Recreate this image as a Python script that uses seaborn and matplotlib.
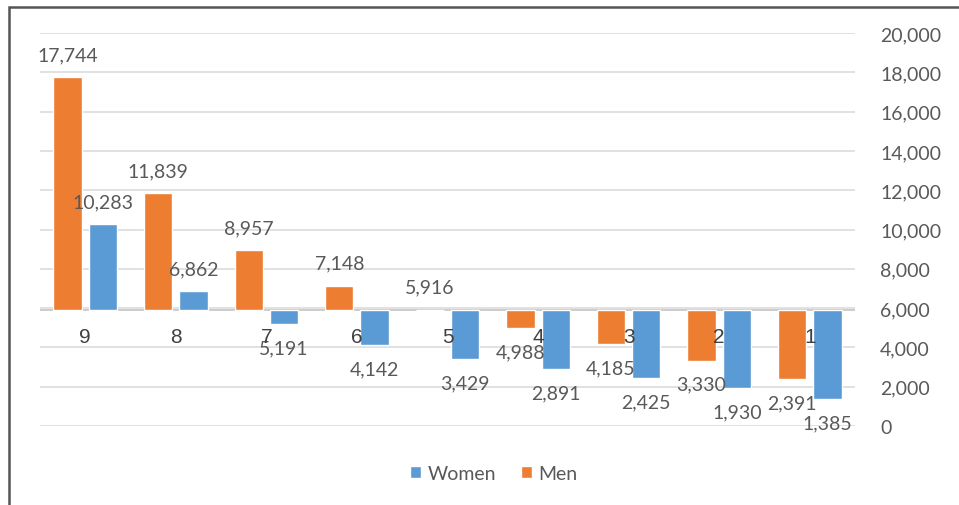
import matplotlib
matplotlib.use("Agg")
import matplotlib.pyplot as plt
from matplotlib.patches import Patch, Rectangle
import seaborn as sns
import pandas as pd

# Values per category
categories = ["9", "8", "7", "6", "5", "4", "3", "2", "1"]
men = [17744, 11839, 8957, 7148, 5916, 4988, 4185, 3330, 2391]
women = [10283, 6862, 5191, 4142, 3429, 2891, 2425, 1930, 1385]
y_ticks = list(range(0, 20001, 2000))

# bars grow from the horizontal axis, which crosses at the category-5 men value
base = men[categories.index("5")]

MEN_C = "#ED7D31"
WOMEN_C = "#5B9BD5"
TEXT_C = "#595959"

df = pd.DataFrame({
    "category": categories * 2,
    "sex": ["Men"] * len(categories) + ["Women"] * len(categories),
    "value": men + women,
})
df["offset"] = df["value"] - base

sns.set_theme(style="white")
plt.rcParams["font.family"] = ["Lato", "DejaVu Sans"]

fig = plt.figure(figsize=(9.59, 5.06), dpi=100, facecolor="white")
ax = fig.add_axes([40 / 959, 79 / 506, 815 / 959, 393 / 506])
ax.set_facecolor("white")

for y in y_ticks:
    ax.axhline(y, color="#D9D9D9", lw=1.1, zorder=0)
ax.axhline(base, color="#C8C8C8", lw=1.3, zorder=0)

sns.barplot(data=df, x="category", y="offset", hue="sex", order=categories,
            hue_order=["Men", "Women"], palette=[MEN_C, WOMEN_C],
            width=0.78, gap=0.2, bottom=base, errorbar=None, legend=False,
            saturation=1, ax=ax, zorder=2)

ax.set_xlim(-0.5, len(categories) - 0.5)
ax.set_ylim(0, 20000)
ax.set_xlabel("")
ax.set_ylabel("")
ax.set_xticks([])
ax.yaxis.tick_right()
ax.set_yticks(y_ticks)
ax.set_yticklabels([f"{v:,}" for v in y_ticks])
ax.tick_params(axis="y", length=0, pad=18, labelsize=14, labelcolor=TEXT_C)
for s in ax.spines.values():
    s.set_visible(False)

# value labels at the outer end of every bar
for container, vals in zip(ax.containers, [men, women]):
    for bar, v in zip(container, vals):
        cx = bar.get_x() + bar.get_width() / 2
        up = v >= base
        ax.annotate(f"{v:,}", (cx, v), xytext=(0, 10 if up else -11),
                    textcoords="offset points", ha="center",
                    va="bottom" if up else "top", fontsize=14,
                    color=TEXT_C, annotation_clip=False, zorder=4)

# category labels sit just under the crossing axis
for i, c in enumerate(categories):
    ax.annotate(c, (i, base), xytext=(0, -19), textcoords="offset points",
                ha="center", va="center", fontsize=15, color="#404040",
                family=["Liberation Sans", "DejaVu Sans"], zorder=5,
                annotation_clip=False)

handles = [Patch(facecolor=WOMEN_C, label="Women"),
           Patch(facecolor=MEN_C, label="Men")]
fig.legend(handles=handles, loc="center", bbox_to_anchor=(0.515, 0.063),
           ncol=2, frameon=False, fontsize=14, handlelength=0.55,
           handleheight=0.55, handletextpad=0.35, columnspacing=1.3,
           labelcolor=TEXT_C)

# chart frame
fig.patches.append(Rectangle((9 / 959, -0.1), 1.2, 1.1 - 8 / 506,
                             transform=fig.transFigure, fill=False,
                             edgecolor="#555555", lw=1.8))

fig.savefig("out.png", dpi=100, facecolor="white")
